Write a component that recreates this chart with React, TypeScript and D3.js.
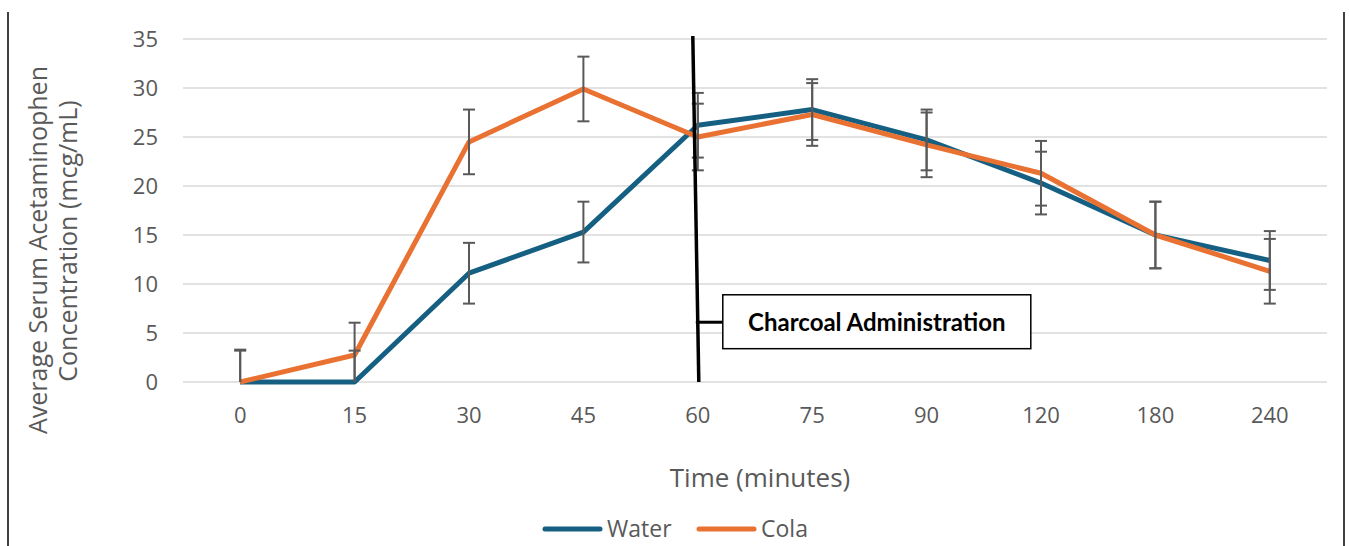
import * as d3 from 'd3'

const width = 1350
const height = 546
const margin = { top: 39, right: 23, bottom: 164, left: 183 }

const times = ['0', '15', '30', '45', '60', '75', '90', '120', '180', '240']
const water = [0, 0, 11.1, 15.3, 26.2, 27.8, 24.7, 20.3, 15.0, 12.4]
const cola = [0, 2.75, 24.5, 29.9, 25.0, 27.3, 24.2, 21.3, 15.0, 11.3]
const waterErr = [3.2, 3.2, 3.1, 3.1, 3.3, 3.1, 3.1, 3.2, 3.4, 3.0]
const colaErr = [3.3, 3.3, 3.3, 3.3, 3.4, 3.2, 3.3, 3.3, 3.4, 3.3]
const yTicks = [0, 5, 10, 15, 20, 25, 30, 35]

const series = [
  { name: 'Water', values: water, errors: waterErr, color: '#156082' },
  { name: 'Cola', values: cola, errors: colaErr, color: '#E97132' },
]

const font = '"Open Sans", "Liberation Sans", Arial, sans-serif'
const gray = '#595959'

function App() {
  const innerWidth = width - margin.left - margin.right
  const innerHeight = height - margin.top - margin.bottom

  const xScale = d3.scalePoint().domain(times).range([0, innerWidth]).padding(0.5)
  const yScale = d3.scaleLinear().domain([0, 35]).range([innerHeight, 0])

  const line = d3
    .line<number>()
    .x((_, i) => xScale(times[i]))
    .y((d) => yScale(d))

  const x60 = xScale('60')
  const capW = 6

  return (
    <svg
      width={width}
      height={height}
      style={{ position: 'absolute', left: 0, top: 0, background: '#fff' }}
    >
      <line x1={8} y1={12} x2={8} y2={height} stroke="#000" strokeWidth={1.5} />
      <line x1={1344} y1={12} x2={1344} y2={height} stroke="#000" strokeWidth={1.5} />

      <g transform={`translate(${margin.left},${margin.top})`}>
        {yTicks.map((t) => (
          <g key={t} transform={`translate(0,${yScale(t)})`}>
            <line x2={innerWidth} stroke="#d9d9d9" strokeWidth={1.5} />
            <text
              x={-25}
              dy=".36em"
              textAnchor="end"
              fill={gray}
              fontSize={22}
              fontFamily={font}
            >
              {t}
            </text>
          </g>
        ))}
        {times.map((t) => (
          <text
            key={t}
            x={xScale(t)}
            y={innerHeight + 41}
            textAnchor="middle"
            fill={gray}
            fontSize={22}
            fontFamily={font}
          >
            {t}
          </text>
        ))}

        {series.map((s) => (
          <path
            key={s.name}
            d={line(s.values)}
            fill="none"
            stroke={s.color}
            strokeWidth={5}
            strokeLinejoin="round"
          />
        ))}

        {series.map((s) =>
          s.values.map((v, i) => {
            const x = xScale(times[i])
            const hi = v + s.errors[i]
            const lo = v - s.errors[i]
            return (
              <g key={s.name + i} stroke={gray} strokeWidth={2}>
                <line x1={x} x2={x} y1={yScale(hi)} y2={yScale(Math.max(lo, 0))} />
                <line x1={x - capW} x2={x + capW} y1={yScale(hi)} y2={yScale(hi)} />
                {lo >= 0 && (
                  <line x1={x - capW} x2={x + capW} y1={yScale(lo)} y2={yScale(lo)} />
                )}
              </g>
            )
          })
        )}

        {/* charcoal administration marker */}
        <line
          x1={x60 - 5}
          y1={yScale(35) - 3}
          x2={x60 + 1}
          y2={yScale(0)}
          stroke="#000"
          strokeWidth={3.5}
        />
        <line
          x1={x60 - 2}
          x2={x60 + 25}
          y1={yScale(6.1)}
          y2={yScale(6.1)}
          stroke="#000"
          strokeWidth={3}
        />
        <rect
          x={x60 + 25}
          y={yScale(8.9)}
          width={308}
          height={yScale(3.4) - yScale(8.9)}
          fill="#fff"
          stroke="#000"
          strokeWidth={1.5}
        />
        <text
          x={x60 + 25 + 154}
          y={yScale(6.1)}
          dy=".36em"
          textAnchor="middle"
          fontSize={24}
          fontWeight="bold"
          fontFamily='Lato, "Open Sans", sans-serif'
          fill="#000"
        >
          Charcoal Administration
        </text>
      </g>

      <text
        transform="translate(47,250) rotate(-90)"
        textAnchor="middle"
        fill={gray}
        fontSize={25}
        fontFamily={font}
      >
        Average Serum Acetaminophen
      </text>
      <text
        transform="translate(77,241) rotate(-90)"
        textAnchor="middle"
        fill={gray}
        fontSize={25}
        fontFamily={font}
      >
        Concentration (mcg/mL)
      </text>
      <text
        x={760}
        y={487}
        textAnchor="middle"
        fill={gray}
        fontSize={26}
        fontFamily={font}
      >
        Time (minutes)
      </text>

      {series.map((s, i) => {
        const lx = i === 0 ? 545 : 699
        return (
          <g key={s.name}>
            <line
              x1={lx}
              x2={lx + 55}
              y1={529}
              y2={529}
              stroke={s.color}
              strokeWidth={5}
              strokeLinecap="round"
            />
            <text x={lx + 62} y={537} fill={gray} fontSize={23} fontFamily={font}>
              {s.name}
            </text>
          </g>
        )
      })}
    </svg>
  )
}

export default App
